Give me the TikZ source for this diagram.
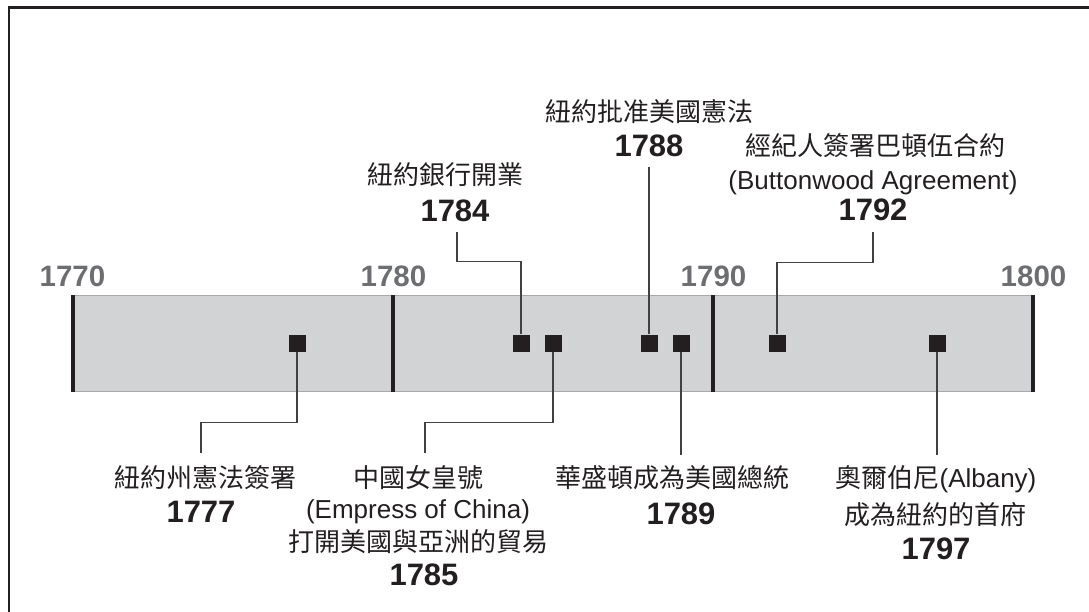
\documentclass[tikz,border=0pt]{standalone}
\usepackage{fontspec}
\setmainfont{Liberation Sans}
\newfontfamily\cjk{Noto Sans CJK TC}
\definecolor{ink}{HTML}{231F20}
\definecolor{axisgray}{HTML}{6D6E71}
\definecolor{barfill}{HTML}{D1D3D4}
\definecolor{baredge}{HTML}{A7A9AC}
\definecolor{linegray}{HTML}{414042}
\tikzset{
  cjklab/.style={anchor=base, inner sep=0pt, text=ink, font=\fontsize{26}{30}\cjk},
  latlab/.style={anchor=base, inner sep=0pt, text=ink, font=\fontsize{26}{30}\selectfont},
  yearlab/.style={anchor=base, inner sep=0pt, text=ink, font=\fontsize{31}{34}\selectfont\bfseries},
  axislab/.style={anchor=base, inner sep=0pt, text=axisgray, font=\fontsize{29.5}{32}\selectfont\bfseries},
  marker/.style={rectangle, fill=ink, minimum size=17pt, inner sep=0pt},
  conn/.style={draw=linegray, line width=1.5pt},
  tickline/.style={draw=ink, line width=3.5pt},
  framebox/.style={draw=ink, line width=2.8pt},
}
\begin{document}
\begin{tikzpicture}[x=1pt, y=-1pt]
\useasboundingbox (0,0) rectangle (1089,612);
% frame
\draw[framebox] (9,615) -- (9,7.5) -- (1092,7.5);
% bar
\filldraw[fill=barfill, draw=baredge, line width=1pt] (73,295) rectangle (1033,391.5);
\foreach \x in {73,393,713,1033} \draw[tickline] (\x,295) -- (\x,391.5);
% axis labels
\node[axislab] (y1770) at (72.5,287) {1770};
\node[axislab] (y1780) at (393.5,287) {1780};
\node[axislab] (y1790) at (713.5,287) {1790};
\node[axislab] (y1800) at (1033.5,287) {1800};
% markers
\node[marker] (m1777) at (297,343) {};
\node[marker] (m1784) at (521,343) {};
\node[marker] (m1785) at (553,343) {};
\node[marker] (m1788) at (649,343) {};
\node[marker] (m1789) at (681,343) {};
\node[marker] (m1792) at (777,343) {};
\node[marker] (m1797) at (937,343) {};
% labels above
\node[cjklab] (t1784a) at (445,185) {紐約銀行開業};
\node[yearlab] (t1784b) at (455,222) {1784};
\node[cjklab] (t1788a) at (649,121.5) {紐約批准美國憲法};
\node[yearlab] (t1788b) at (649,157) {1788};
\node[cjklab] (t1792a) at (875,156) {經紀人簽署巴頓伍合約};
\node[latlab] (t1792b) at (873,189.5) {(Buttonwood Agreement)};
\node[yearlab] (t1792c) at (873,220.5) {1792};
% labels below
\node[cjklab] (t1777a) at (205,487) {紐約州憲法簽署};
\node[yearlab] (t1777b) at (201,522.5) {1777};
\node[cjklab] (t1785a) at (418,487) {中國女皇號};
\node[latlab] (t1785b) at (418,518) {(Empress of China)};
\node[cjklab] (t1785c) at (418,551.5) {打開美國與亞洲的貿易};
\node[yearlab] (t1785d) at (424,585) {1785};
\node[cjklab] (t1789a) at (672,487.5) {華盛頓成為美國總統};
\node[yearlab] (t1789b) at (681,524) {1789};
\node[latlab] (t1797a) at (936,487.5) {{\cjk 奧爾伯尼}(Albany)};
\node[cjklab] (t1797b) at (935,524) {成為紐約的首府};
\node[yearlab] (t1797c) at (936,559) {1797};
% connector ends
\coordinate (e1784) at (457,232);
\coordinate (e1788) at (649,167);
\coordinate (e1792) at (873,232);
\coordinate (e1777) at (201,453);
\coordinate (e1785) at (425,453);
\coordinate (e1789) at (681,455);
\coordinate (e1797) at (937,455);
% connectors
\draw[conn] (m1784.north) -- ++(0,-73) -| (e1784);
\draw[conn] (m1788.north) -- (e1788);
\draw[conn] (m1792.north) -- ++(0,-72) -| (e1792);
\draw[conn] (m1777.south) -- ++(0,71) -| (e1777);
\draw[conn] (m1785.south) -- ++(0,71) -| (e1785);
\draw[conn] (m1789.south) -- (e1789);
\draw[conn] (m1797.south) -- (e1797);
\end{tikzpicture}
\end{document}
